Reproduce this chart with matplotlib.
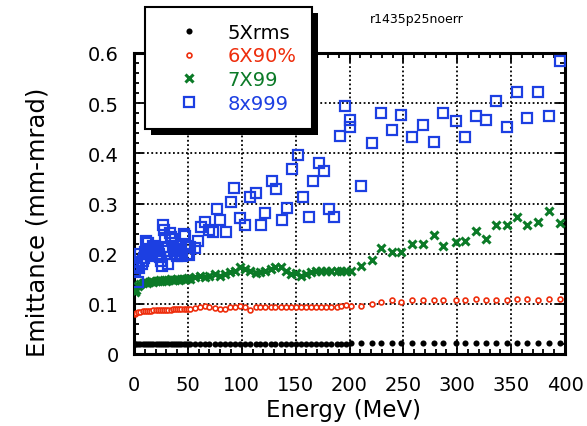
import matplotlib
matplotlib.use("Agg")
import matplotlib.pyplot as plt
from matplotlib.patches import Rectangle
from matplotlib.ticker import MultipleLocator, FixedLocator, FixedFormatter

plt.rcParams['font.family'] = ['DejaVu Sans']

# Energy grids (MeV)
E_LOW = [1, 2, 4, 6, 8, 10, 12, 14, 16, 18, 20, 22, 24, 26, 28, 30, 32, 34, 36,
         38, 40, 42, 44, 46, 48, 50]
E_MID = [52, 57, 61, 66, 70, 75, 80, 84, 89, 94, 98, 103, 108, 113, 117, 122,
         127, 131, 136, 141, 146, 150, 155, 160, 164, 169, 174, 178, 183, 188,
         192, 197]
E_HIGH = [201, 211, 221, 229, 239, 248, 258, 268, 278, 287, 299, 307, 317, 327,
          336, 346, 355, 365, 375, 385, 395]

# 5Xrms emittance (mm-mrad)
rms_low = [0.020, 0.020, 0.020, 0.020, 0.020, 0.020, 0.020, 0.020, 0.020, 0.020,
           0.020, 0.020, 0.020, 0.020, 0.020, 0.020, 0.020, 0.020, 0.020, 0.020,
           0.020, 0.020, 0.020, 0.020, 0.020, 0.020]
rms_mid = [0.020, 0.020, 0.020, 0.020, 0.020, 0.020, 0.020, 0.020, 0.020, 0.020,
           0.020, 0.020, 0.020, 0.020, 0.020, 0.020, 0.020, 0.020, 0.020, 0.020,
           0.020, 0.020, 0.020, 0.020, 0.020, 0.020, 0.020, 0.020, 0.020, 0.020,
           0.020, 0.020]
rms_high = [0.022, 0.022, 0.022, 0.022, 0.022, 0.022, 0.022, 0.022, 0.022, 0.022,
            0.022, 0.022, 0.022, 0.022, 0.022, 0.022, 0.022, 0.022, 0.022, 0.022,
            0.022]

# 6X90%
p90_low = [0.080, 0.082, 0.083, 0.084, 0.085, 0.085, 0.086, 0.086, 0.086, 0.087,
           0.087, 0.087, 0.087, 0.088, 0.088, 0.088, 0.088, 0.088, 0.089, 0.089,
           0.089, 0.089, 0.089, 0.089, 0.090, 0.090]
p90_mid = [0.090, 0.091, 0.093, 0.096, 0.093, 0.092, 0.090, 0.090, 0.093, 0.094,
           0.096, 0.093, 0.088, 0.093, 0.093, 0.093, 0.093, 0.093, 0.093, 0.093,
           0.093, 0.093, 0.093, 0.093, 0.093, 0.093, 0.093, 0.093, 0.093, 0.094,
           0.096, 0.098]
p90_high = [0.096, 0.096, 0.100, 0.103, 0.107, 0.103, 0.107, 0.107, 0.107, 0.107,
            0.107, 0.107, 0.110, 0.107, 0.107, 0.107, 0.110, 0.110, 0.107, 0.110,
            0.110]

# 7X99
p99_low = [0.123, 0.128, 0.136, 0.140, 0.141, 0.143, 0.142, 0.144, 0.145, 0.143,
           0.146, 0.145, 0.147, 0.146, 0.148, 0.146, 0.147, 0.149, 0.148, 0.147,
           0.149, 0.148, 0.150, 0.149, 0.150, 0.151]
p99_mid = [0.150, 0.153, 0.156, 0.154, 0.156, 0.159, 0.156, 0.159, 0.163, 0.166,
           0.173, 0.169, 0.166, 0.161, 0.163, 0.166, 0.169, 0.173, 0.174, 0.166,
           0.159, 0.161, 0.156, 0.159, 0.163, 0.166, 0.166, 0.166, 0.166, 0.166,
           0.166, 0.166]
p99_high = [0.166, 0.176, 0.187, 0.211, 0.204, 0.204, 0.219, 0.219, 0.237, 0.215,
            0.223, 0.226, 0.246, 0.229, 0.257, 0.257, 0.274, 0.257, 0.264, 0.286,
            0.261]

# 8x999
p999_e = [1, 2, 3, 4, 5, 6, 7, 8, 9, 10, 11, 12, 13, 14, 15, 16, 17, 18, 19, 20,
          21, 22, 23, 24, 25, 26, 27, 28, 29, 30, 31, 32, 33, 34, 35, 36, 37, 38,
          39, 40, 41, 42, 43, 44, 45, 46, 47, 48, 49, 50,
          51, 52, 57, 59, 62, 66, 70, 73, 77, 80, 85, 90, 93, 98, 103, 108, 113,
          118, 122, 128, 132, 137, 142, 147, 152, 157, 162, 166, 172, 176, 181,
          186, 191, 196, 200, 200.5,
          211, 221, 229, 239, 248, 258, 268, 278, 287, 299, 307, 317, 327, 336,
          346, 355, 365, 375, 385, 395]
p999_v = [0.165, 0.183, 0.175, 0.143, 0.172, 0.199, 0.180, 0.186, 0.192, 0.203,
          0.226, 0.205, 0.221, 0.199, 0.209, 0.195, 0.202, 0.215, 0.213, 0.205,
          0.198, 0.210, 0.200, 0.193, 0.185, 0.176, 0.257, 0.248, 0.231, 0.213,
          0.205, 0.179, 0.241, 0.233, 0.229, 0.216, 0.205, 0.200, 0.210, 0.196,
          0.205, 0.215, 0.200, 0.209, 0.196, 0.239, 0.236, 0.215, 0.200, 0.213,
          0.197, 0.213, 0.211, 0.226, 0.254, 0.264, 0.248, 0.244, 0.289, 0.268,
          0.244, 0.302, 0.330, 0.271, 0.257, 0.313, 0.320, 0.257, 0.281, 0.345,
          0.328, 0.268, 0.292, 0.369, 0.397, 0.312, 0.274, 0.345, 0.380, 0.365,
          0.289, 0.274, 0.435, 0.495, 0.467, 0.453,
          0.334, 0.421, 0.480, 0.446, 0.477, 0.432, 0.456, 0.422, 0.480, 0.464,
          0.432, 0.474, 0.467, 0.505, 0.452, 0.523, 0.470, 0.523, 0.474, 0.585]

x_ticks = [0, 50, 100, 150, 200, 250, 300, 350, 400]
x_tick_labels = ["0", "50", "100", "150", "200", "250", "300", "350", "400"]
y_ticks = [0, 0.1, 0.2, 0.3, 0.4, 0.5, 0.6]
y_tick_labels = ["0", "0.1", "0.2", "0.3", "0.4", "0.5", "0.6"]

RED = "#ee2d0c"
GREEN = "#0b7a27"
BLUE = "#1c3fe2"

fig = plt.figure(figsize=(5.87, 4.27), dpi=100)
ax = fig.add_axes([134 / 587, 1 - 355 / 427, 431 / 587, 301 / 427])

ax.plot(E_LOW + E_MID + E_HIGH, rms_low + rms_mid + rms_high, ls="none",
        marker="o", ms=4.4, mfc="black", mec="black", mew=0, label="5Xrms",
        zorder=3)
ax.plot(E_LOW + E_MID + E_HIGH, p90_low + p90_mid + p90_high, ls="none",
        marker="o", ms=3.5, mfc="white", mec=RED, mew=1.2, label="6X90%",
        zorder=3)
ax.plot(E_LOW + E_MID + E_HIGH, p99_low + p99_mid + p99_high, ls="none",
        marker="x", ms=6.3, mec=GREEN, mew=2.2, label="7X99", zorder=3)
ax.plot(p999_e, p999_v, ls="none", marker="s", ms=6.8, mfc="none", mec=BLUE,
        mew=1.6, label="8x999", zorder=3)

ax.set_xlim(0, 400)
ax.set_ylim(0, 0.6)
ax.xaxis.set_major_locator(FixedLocator(x_ticks))
ax.xaxis.set_major_formatter(FixedFormatter(x_tick_labels))
ax.yaxis.set_major_locator(FixedLocator(y_ticks))
ax.yaxis.set_major_formatter(FixedFormatter(y_tick_labels))
ax.xaxis.set_minor_locator(MultipleLocator(10))
ax.yaxis.set_minor_locator(MultipleLocator(0.02))

ax.tick_params(which="both", direction="in", top=True, right=True,
               width=1.3, color="black")
ax.tick_params(which="major", length=6.5)
ax.tick_params(which="minor", length=3.5)
ax.tick_params(axis="x", which="major", pad=15, labelsize=14)
ax.tick_params(axis="y", which="major", pad=11, labelsize=14)

for s in ax.spines.values():
    s.set_linewidth(2.2)

ax.grid(True, which="major", color="black", linestyle=(0, (1.0, 1.4)),
        linewidth=1.3)
ax.set_axisbelow(True)

ax.set_xlabel("Energy (MeV)", fontsize=16.5, ha="center", va="center")
ax.set_ylabel("Emittance (mm-mrad)", fontsize=17.5, ha="center", va="center")
ax.xaxis.set_label_coords(0.487, -0.183)
ax.yaxis.set_label_coords(-0.223, 0.442)

fig.text(417 / 587, 1 - 20 / 427, "r1435p25noerr", fontsize=9,
         ha="center", va="center")

handles, labels = ax.get_legend_handles_labels()
leg = fig.legend(handles, labels, loc="upper left",
                 bbox_to_anchor=(145 / 587, 1 - 8 / 427),
                 borderaxespad=0, fontsize=14, frameon=True, fancybox=False,
                 borderpad=0.8, handlelength=2.94, handletextpad=0.49,
                 labelspacing=0.25, numpoints=1, markerscale=1.0)
leg.get_frame().set_edgecolor("black")
leg.get_frame().set_linewidth(1.5)
leg.get_frame().set_alpha(1)
leg.set_zorder(10)
for txt, col in zip(leg.get_texts(), ["black", RED, GREEN, BLUE]):
    txt.set_color(col)

# solid drop shadow behind the legend box
fig.canvas.draw()
bb = leg.get_window_extent().transformed(fig.transFigure.inverted())
dx, dy = 6 / 587, 6 / 427
fig.patches.append(Rectangle((bb.x0 + dx, bb.y0 - dy), bb.width, bb.height,
                             transform=fig.transFigure, facecolor="black",
                             edgecolor="none", zorder=9))

fig.savefig("out.png", dpi=100)
